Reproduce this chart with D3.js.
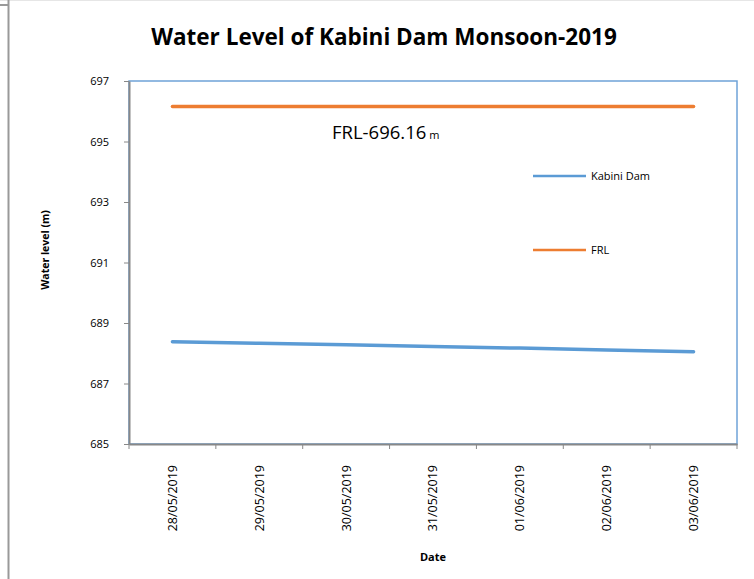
<!DOCTYPE html>
<html>
<head>
<meta charset="utf-8">
<script src="https://cdn.jsdelivr.net/npm/d3@7"></script>
<style>
  body { margin: 0; background: #fff; }
  svg { display: block; font-family: "Open Sans", sans-serif; }
</style>
</head>
<body>
<svg id="chart" width="754" height="579"></svg>
<script>
// chart data
var dates = ['28/05/2019', '29/05/2019', '30/05/2019', '31/05/2019', '01/06/2019', '02/06/2019', '03/06/2019'];
var kabiniLevel = [688.38, 688.33, 688.28, 688.22, 688.17, 688.11, 688.05];
var frlLevel = [696.16, 696.16, 696.16, 696.16, 696.16, 696.16, 696.16];
var yTicks = [685, 687, 689, 691, 693, 695, 697];
var seriesNames = ['Kabini Dam', 'FRL'];
var seriesColors = ['#5b9bd5', '#ed7d31'];

var svg = d3.select('#chart');

var plot = { left: 129, top: 81, right: 737, bottom: 444 };

// page frame bits
svg.append('line')
    .attr('x1', 0).attr('x2', 754).attr('y1', 0.5).attr('y2', 0.5)
    .attr('stroke', '#e6e6e6').attr('stroke-width', 1);
svg.append('line')
    .attr('x1', 8.5).attr('x2', 8.5).attr('y1', 0).attr('y2', 579)
    .attr('stroke', '#999').attr('stroke-width', 2);
svg.append('line')
    .attr('x1', 0).attr('x2', 8).attr('y1', 5).attr('y2', 5)
    .attr('stroke', '#999').attr('stroke-width', 2);

var x = d3.scaleBand()
    .domain(dates)
    .range([plot.left, plot.right])
    .padding(0);

var y = d3.scaleLinear()
    .domain([685, 697])
    .range([plot.bottom, plot.top]);

// plot area border (blue)
svg.append('rect')
    .attr('x', plot.left)
    .attr('y', plot.top)
    .attr('width', plot.right - plot.left)
    .attr('height', plot.bottom - plot.top)
    .attr('fill', 'none')
    .attr('stroke', '#6fa3d8')
    .attr('stroke-width', 1.5);

// y axis
var yAxis = svg.append('g')
    .attr('transform', 'translate(' + plot.left + ',0)')
    .call(d3.axisLeft(y).tickValues(yTicks).tickSize(5).tickSizeOuter(0).tickPadding(15));
yAxis.select('.domain').attr('stroke', '#888').attr('stroke-width', 2);
yAxis.selectAll('.tick line').attr('stroke', '#888');
yAxis.selectAll('.tick text')
    .attr('fill', '#000')
    .style('font-size', '11px')
    .style('font-family', '"Open Sans", sans-serif');

// x axis
var xAxis = svg.append('g')
    .attr('transform', 'translate(0,' + plot.bottom + ')')
    .call(d3.axisBottom(x).tickSize(0).tickSizeOuter(0));
xAxis.select('.domain').attr('stroke', '#888').attr('stroke-width', 2);
xAxis.selectAll('.tick text')
    .attr('fill', '#000')
    .style('font-size', '12.5px')
    .style('font-family', '"Open Sans", sans-serif')
    .attr('transform', 'rotate(-90)')
    .attr('text-anchor', 'end')
    .attr('x', -21)
    .attr('y', 0)
    .attr('dy', '0.35em');

// tick marks between categories
var boundaries = dates.map(function(d) { return x(d); }).concat([x.range()[1]]);
svg.selectAll('.xtick')
    .data(boundaries)
    .enter()
    .append('line')
        .attr('class', 'xtick')
        .attr('x1', function(d) { return d; })
        .attr('x2', function(d) { return d; })
        .attr('y1', plot.bottom)
        .attr('y2', plot.bottom + 5)
        .attr('stroke', '#888');

var line = d3.line()
    .x(function(d, i) { return x(dates[i]) + x.bandwidth() / 2; })
    .y(function(d) { return y(d); });

svg.append('path')
    .datum(frlLevel)
    .attr('d', line)
    .attr('fill', 'none')
    .attr('stroke', seriesColors[1])
    .attr('stroke-width', 3.5)
    .attr('stroke-linecap', 'round');

svg.append('path')
    .datum(kabiniLevel)
    .attr('d', line)
    .attr('fill', 'none')
    .attr('stroke', seriesColors[0])
    .attr('stroke-width', 3.5)
    .attr('stroke-linecap', 'round');

// legend
var legendY = [176, 250];
var legend = svg.selectAll('.legend')
    .data(seriesNames)
    .enter()
    .append('g')
        .attr('class', 'legend')
        .attr('transform', function(d, i) { return 'translate(533,' + legendY[i] + ')'; });
legend.append('line')
    .attr('x1', 0).attr('x2', 53)
    .attr('stroke', function(d, i) { return seriesColors[i]; })
    .attr('stroke-width', 2.5);
legend.append('text')
    .attr('x', 58)
    .attr('dy', '0.35em')
    .style('font-size', '11px')
    .text(function(d) { return d; });

// FRL annotation
var note = svg.append('text')
    .attr('x', 332)
    .attr('y', 139)
    .style('font-size', '18.5px');
note.append('tspan').text('FRL-696.16');
note.append('tspan').attr('dx', 3).style('font-size', '11px').text('m');

// title
svg.append('text')
    .attr('x', 384)
    .attr('y', 45)
    .attr('text-anchor', 'middle')
    .style('font-size', '22.5px')
    .style('font-weight', 'bold')
    .text('Water Level of Kabini Dam Monsoon-2019');

// axis titles
svg.append('text')
    .attr('x', (plot.left + plot.right) / 2)
    .attr('y', 561)
    .attr('text-anchor', 'middle')
    .style('font-size', '11px')
    .style('font-weight', 'bold')
    .text('Date');

svg.append('text')
    .attr('transform', 'translate(49,250) rotate(-90)')
    .attr('text-anchor', 'middle')
    .style('font-size', '10.5px')
    .style('font-weight', 'bold')
    .text('Water level (m)');
</script>
</body>
</html>
